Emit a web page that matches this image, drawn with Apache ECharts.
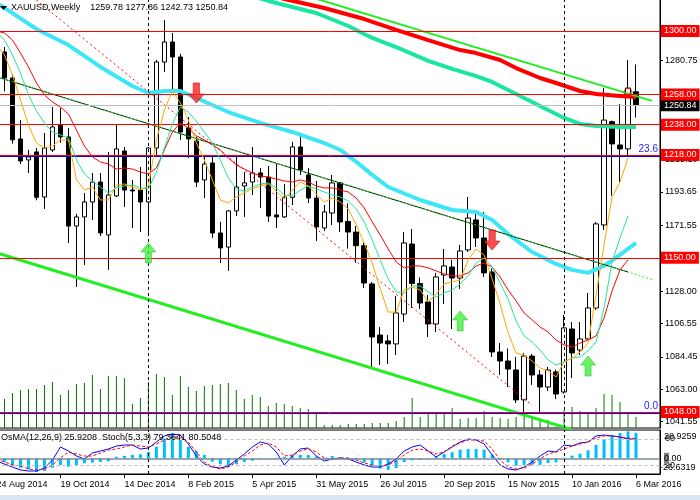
<!DOCTYPE html>
<html><head><meta charset="utf-8">
<script src="https://cdn.jsdelivr.net/npm/echarts@6/dist/echarts.min.js"></script>
<style>html,body{margin:0;padding:0;background:#fff;}#c{width:700px;height:500px;}</style>
</head><body><div id="c"></div>
<script>
const dates = ['24 Aug 2014','31 Aug 2014','7 Sep 2014','14 Sep 2014','21 Sep 2014','28 Sep 2014','5 Oct 2014','12 Oct 2014','19 Oct 2014','26 Oct 2014','2 Nov 2014','9 Nov 2014','16 Nov 2014','23 Nov 2014','30 Nov 2014','7 Dec 2014','14 Dec 2014','21 Dec 2014','28 Dec 2014',
'4 Jan 2015','11 Jan 2015','18 Jan 2015','25 Jan 2015','1 Feb 2015','8 Feb 2015','15 Feb 2015','22 Feb 2015','1 Mar 2015','8 Mar 2015','15 Mar 2015','22 Mar 2015','29 Mar 2015','5 Apr 2015','12 Apr 2015','19 Apr 2015','26 Apr 2015','3 May 2015','10 May 2015','17 May 2015','24 May 2015','31 May 2015','7 Jun 2015','14 Jun 2015','21 Jun 2015','28 Jun 2015','5 Jul 2015','12 Jul 2015','19 Jul 2015','26 Jul 2015','2 Aug 2015','9 Aug 2015','16 Aug 2015','23 Aug 2015','30 Aug 2015','6 Sep 2015','13 Sep 2015','20 Sep 2015','27 Sep 2015','4 Oct 2015','11 Oct 2015','18 Oct 2015','25 Oct 2015','1 Nov 2015','8 Nov 2015','15 Nov 2015','22 Nov 2015','29 Nov 2015','6 Dec 2015','13 Dec 2015','20 Dec 2015','27 Dec 2015',
'3 Jan 2016','10 Jan 2016','17 Jan 2016','24 Jan 2016','31 Jan 2016','7 Feb 2016','14 Feb 2016','21 Feb 2016','28 Feb 2016','6 Mar 2016','13 Mar 2016','20 Mar 2016','27 Mar 2016'];

const opens = [1280,1286.1,1268.9,1228.6,1214.7,1220,1190.2,1221.3,1237.8,1229.9,1171,1177,1186.9,1200.1,1165.1,1190.9,1220.6,1194.8,1194.8,1186.9,1222.6,1279.5,1292.7,1282.8,1235.8,1227.2,1201.5,1212.7,1166.4,1157.1,1181,1197.5,1200.1,1206.1,1203.4,1178.3,1177,1190,1223.3,1204.8,1189.5,1169.7,1179.6,1199.5,1174,1167,1158,1132.7,1098.9,1095,1093,1112.8,1159.1,1133,1120.8,1106.2,1138.6,1143.9,1136.6,1155.2,1175,1163.1,1140.6,1087.7,1081.7,1075.8,1056,1085,1072.5,1064.5,1074.5,1061.2,1102.9,1089,1096.3,1116.8,1171.7,1240,1224.6,1222,1259.78];
const highs = [1293,1289.4,1271.5,1241.1,1221.3,1222.6,1232.5,1249.7,1249,1235.8,1179,1192.9,1206.1,1206.1,1220,1237.8,1223.3,1201.5,1210,1223.3,1280.8,1307.3,1298.7,1284.8,1243.1,1230,1218,1217.3,1173.7,1181.6,1218,1206.7,1223.3,1209.4,1210.7,1212,1198.8,1226.6,1231.9,1209.4,1200.8,1184.9,1204.8,1200.1,1186,1171,1160,1134,1104.2,1099,1124.7,1167.1,1169,1137,1125.4,1140,1155.8,1148.6,1158.5,1190.2,1181.6,1180.3,1143,1093.6,1090,1084.4,1087,1086.4,1075.8,1077.8,1076,1112.2,1107.5,1107.5,1126.7,1173.7,1262.3,1240.8,1251.7,1280.8,1277.86];
const lows = [1274,1260,1225.5,1212,1206.1,1188,1182.3,1220,1226,1159.8,1130.7,1145.2,1175,1164.4,1142,1190.2,1183.6,1169.7,1167.1,1166.4,1218,1272.9,1261,1227.9,1216,1196.8,1189.5,1163.1,1146.6,1141.3,1177.6,1177,1191.5,1182.9,1173.7,1169.7,1176.3,1184.9,1204.8,1186.2,1161.1,1167.7,1171.7,1167.1,1156,1146.6,1130,1077.1,1079.1,1079.8,1085.7,1107.5,1116.8,1116.1,1097.6,1100.9,1119.4,1102.9,1129.4,1153.8,1157.1,1137.3,1084.4,1072.5,1064.5,1054,1046.7,1065.9,1047.3,1061.9,1056.6,1060,1070.5,1085.7,1095.6,1115.5,1168.4,1191,1200.1,1216.7,1242.73];
const closes = [1287,1268.9,1228,1214,1216.7,1190,1222.6,1236.5,1229.9,1171,1177,1186.9,1200.1,1166.4,1191.5,1222,1194.8,1194.2,1186.9,1222.6,1279.5,1292.7,1282.8,1233.2,1228.6,1200.1,1212,1166.4,1156.5,1181,1196.8,1199.5,1206.1,1203.4,1177.6,1177,1190,1223.3,1208.1,1189.5,1170.4,1180.3,1199.5,1173.7,1167,1158,1133.3,1097.6,1093.6,1093,1113.5,1159.8,1133,1120.1,1106.2,1137.3,1144.6,1136.6,1154.5,1176.3,1163.1,1140,1087.7,1081.7,1076.4,1056,1085,1072.5,1064.5,1075.8,1059.9,1103.6,1087,1096.3,1116.8,1172.4,1241.1,1225.3,1222,1262.3,1250.84];
const volumes = [28,29,35,38,39,39,43,46,33,38,44,45,53,39,52,52,50,24,30,46,54,51,33,52,41,37,42,43,44,45,38,29,33,31,22,25,24,22,20,19,15,3,3,3,4,4,4,5,5,5,7,11,30,11,16,16,14,20,9,10,10,17,11,10,9,11,14,12,9,8,1,18,21,17,15,20,34,33,26,16,11];

const maOrange = [1290.7,1284.1,1270.9,1254.4,1237.8,1225.9,1222.6,1223.9,1227.9,1227.9,1201.5,1194.8,1196.8,1188.2,1188.2,1198.1,1198.8,1196.8,1194.8,1197.5,1227.9,1247.7,1260.3,1252.4,1241.1,1225.9,1214.7,1201.5,1188.2,1186.2,1190.2,1192.9,1195.5,1197.5,1198.8,1194.2,1188.9,1194.8,1200.1,1197.5,1192.2,1186.9,1189.5,1186.9,1182.3,1171.7,1159.8,1146.6,1129.4,1114.1,1114.1,1128.7,1130.7,1128.7,1120.8,1126.1,1132.7,1134.0,1135.3,1148.5,1155.8,1151.8,1136.0,1119.4,1100.3,1087.0,1085.7,1081.7,1077.1,1075.1,1071.2,1081.1,1083.7,1087.7,1093.6,1125.4,1158.5,1190.2,1200.1,1216.0];
const maGreen = [1299.3,1294.0,1284.1,1272.2,1257.7,1247.1,1239.2,1233.2,1231.2,1229.2,1214.7,1205.4,1200.8,1196.8,1192.9,1196.2,1197.5,1198.1,1196.2,1195.5,1206.7,1222.6,1238.5,1249.7,1246.4,1240.5,1233.2,1225.9,1214.7,1202.8,1195.5,1194.2,1196.8,1198.8,1199.5,1196.2,1191.5,1190.9,1194.8,1197.5,1195.5,1193.5,1191.5,1190.2,1187.6,1182.3,1173.7,1161.8,1148.5,1136.0,1127.4,1126.7,1131.3,1131.3,1127.4,1124.1,1126.7,1128.7,1132.7,1138.0,1146.6,1149.9,1143.9,1133.3,1122.7,1108.2,1098.3,1094.3,1089.0,1082.4,1079.1,1081.1,1083.7,1084.4,1088.4,1094.3,1116.8,1147.2,1163.1,1177.6];
const maRed = [1300.0,1298.7,1294.0,1285.4,1276.2,1265.6,1257.7,1253.0,1249.7,1245.1,1234.5,1223.9,1216.7,1213.4,1212.0,1208.7,1209.4,1208.7,1206.7,1205.4,1209.4,1221.3,1233.2,1239.2,1235.8,1230.6,1227.9,1224.6,1221.3,1216.0,1211.4,1208.7,1206.1,1204.1,1203.4,1202.1,1200.8,1200.1,1201.5,1200.1,1197.5,1196.2,1196.2,1194.8,1193.5,1189.5,1182.9,1173.7,1165.1,1155.8,1147.2,1143.3,1144.6,1144.6,1143.3,1141.3,1139.3,1138.0,1138.0,1140.0,1144.6,1146.6,1143.9,1137.3,1128.7,1121.4,1113.5,1108.9,1104.2,1100.9,1095.6,1092.3,1091.0,1093.6,1095.6,1098.3,1110.2,1128.0,1142.0,1148.6];

const maCyan = [[0,1318.5],[1,1315.3],[5,1301.3],[9,1290.7],[13,1276.2],[17,1263.6],[19,1259.0],[21,1260.3],[23,1260.3],[25,1255.7],[29,1246.4],[33,1239.2],[37,1233.2],[41,1225.9],[43,1221.3],[45,1213.4],[47,1204.8],[49,1196.8],[53,1188.2],[57,1181.6],[60,1180.3],[62,1175.0],[64,1165.7],[67,1153.8],[70,1145.9],[72,1142.0],[74,1140.0],[76,1144.6],[78,1151.9],[80,1159.8]];
const maRedThick = [[35,1322.5],[36,1321.2],[41,1315.2],[46,1307.9],[50,1300.7],[54,1294.0],[58,1287.4],[60,1285.4],[63,1280.8],[65,1275.5],[68,1268.9],[70,1265.6],[73,1260.3],[75,1258.3],[78,1257.0],[80,1256.3]];
const maTeal = [[32,1323.0],[35,1318.5],[36,1317.2],[40,1311.9],[44,1303.3],[47,1295.4],[50,1289.4],[54,1280.2],[57,1274.9],[60,1270.2],[62,1266.3],[65,1258.3],[68,1250.4],[71,1242.5],[73,1238.5],[75,1237.2],[78,1236.5],[80,1236.5]];

const trendTopGreen = [[39,1322.9],[82,1253.8]];
const trendLowGreen = [[0,1153.3],[72,1036.3]];
const trendMidDash = [[0,1269.7],[82,1135.6]];
const trendMidSolid = [[0,1269.7],[79,1140.6]];
const trendRedDash = [[4,1324.7],[67,1052.4]];

const levels = [1300, 1258, 1238, 1218, 1150, 1048];
const bidPrice = 1250.84;
const fiboValues = [1217.4, 1047.4];
const fiboNames = ['23.6', '0.0'];
const priceTicks = [1280.75, 1215.10, 1193.65, 1171.55, 1128.00, 1106.55, 1084.45, 1063.00, 1041.55];
const separators = ['4 Jan 2015', '3 Jan 2016'];

const upArrows = [[19,1153.2],[58,1108.2],[74,1078.4]];
const downArrows = [[25,1259.0],[62,1161.8]];
const markCircle = [[79,1259.4]];

const osma = [-2,-3.7,-7.2,-9.6,-11.3,-14.0,-13.0,-9.6,-6.8,-8.6,-6.8,-5.1,-4.4,-3.8,-3.1,1.6,2.4,3.4,4.1,6.4,11.9,20.0,25.6,18.7,11.6,7.5,3.4,-3.4,-6.1,-8.6,-6.1,-3.8,-2.4,-1.0,-0.3,0.5,1.5,3.0,3.5,3.4,1.8,0.6,2.4,1.0,0.6,-1.7,-4.4,-7.8,-10.5,-11.9,-9.9,-3.8,-2.0,-1.4,0.4,1.7,4.4,6.1,8.9,9.5,9.5,8.9,3.7,-1.4,-4.1,-7.5,-6.8,-6.5,-6.8,-4.8,-4.1,0.5,2.7,4.8,8.2,13.6,19.8,23.9,25.9,27.6,25.92];
const stochMain = [29.5,22.7,15.9,9.1,6.8,6.8,13.6,31.8,61.4,52.3,40.9,34.1,47.7,52.3,56.8,63.6,65.9,65.9,56.8,59.1,72.7,86.4,90.9,88.6,68.2,40.9,22.7,15.9,13.6,18.2,31.8,45.5,61.4,72.7,68.2,50.0,20.5,40.9,56.8,59.1,40.9,29.5,34.1,36.4,34.1,27.3,20.5,15.9,15.9,22.7,34.1,52.3,61.4,65.9,52.3,38.6,50.0,61.4,72.7,79.5,77.3,68.2,43.2,20.5,11.4,9.1,15.9,27.3,40.9,52.3,50.0,65.9,63.6,70.5,72.7,86.4,88.6,86.4,84.1,79.5,79.36];
const stochSignal = [34.1,27.3,20.5,18.2,11.4,9.1,11.4,20.5,36.4,50.0,45.5,40.9,40.9,47.7,54.5,56.8,61.4,65.9,63.6,61.4,68.2,77.3,84.1,84.1,72.7,50.0,27.3,15.9,11.4,15.9,27.3,40.9,52.3,65.9,70.5,61.4,40.9,43.2,52.3,56.8,50.0,36.4,34.1,36.4,36.4,31.8,25.0,20.5,18.2,20.5,29.5,43.2,54.5,56.8,52.3,45.5,50.0,63.6,70.5,77.3,77.3,75.0,56.8,31.8,15.9,11.4,13.6,22.7,34.1,45.5,50.0,56.8,63.6,68.2,72.7,81.8,86.4,86.4,84.1,81.8,80.50];
const stochLevels = [80, 20];
const osmaRange = [-16.05, 28.9259];

const F = 'Liberation Sans';
const candleData = opens.map((o, i) => [o, closes[i], lows[i], highs[i]]);
const noSym = ['none', 'none'];
const lineS = (data, color, width, extra) => Object.assign({
  type: 'line', xAxisIndex: 0, yAxisIndex: 0, data: data, symbol: 'none', silent: true,
  connectNulls: true, lineStyle: { color: color, width: width }, z: 3
}, extra || {});

const chart = echarts.init(document.getElementById('c'));
chart.setOption({
  animation: false,
  textStyle: { fontFamily: F },
  title: [
    { text: 'XAUUSD,Weekly    1259.78 1277.86 1242.73 1250.84', left: 11, top: 3, padding: 0,
      textStyle: { fontSize: 9, fontWeight: 'normal', color: '#000', fontFamily: F } },
    { text: 'OsMA(12,26,9) 25.9208  Stoch(5,3,3) 79.3641 80.5048', left: 1, top: 433, padding: 0,
      textStyle: { fontSize: 9, fontWeight: 'normal', color: '#000', fontFamily: F } }
  ],
  grid: [
    { left: -3.5, top: -1, width: 663.5, height: 429, show: true, borderColor: '#000', borderWidth: 1,
      backgroundColor: 'transparent', containLabel: false, outerBoundsMode: 'none' },
    { left: -3.5, top: 430, width: 663.5, height: 44, show: true, borderColor: '#000', borderWidth: 1,
      backgroundColor: 'transparent', containLabel: false, outerBoundsMode: 'none' }
  ],
  xAxis: [
    { type: 'category', gridIndex: 0, data: dates, boundaryGap: false,
      axisLine: { show: false }, axisTick: { show: false }, axisLabel: { show: false }, splitLine: { show: false } },
    { type: 'category', gridIndex: 1, data: dates, boundaryGap: false,
      axisLine: { show: true, lineStyle: { color: '#000' } },
      axisTick: { show: true, interval: 7, length: 4, lineStyle: { color: '#000' } },
      axisLabel: { interval: 7, align: 'left', fontSize: 9, color: '#000', margin: 6, fontFamily: F },
      splitLine: { show: false } }
  ],
  yAxis: [
    { type: 'value', gridIndex: 0, position: 'right', min: 1037.4, max: 1321.16,
      axisLine: { show: true, lineStyle: { color: '#000' } },
      axisTick: { show: true, length: 3, customValues: priceTicks, lineStyle: { color: '#000' } },
      axisLabel: { show: true, customValues: priceTicks, formatter: v => v.toFixed(2), fontSize: 9, color: '#000', margin: 5, fontFamily: F },
      splitLine: { show: false } },
    { type: 'value', gridIndex: 0, min: 0, max: 428, show: false, splitLine: { show: false } },
    { type: 'value', gridIndex: 1, position: 'right', min: 0, max: 100,
      axisLine: { show: true, lineStyle: { color: '#000' } }, axisTick: { show: false },
      axisLabel: { customValues: stochLevels, fontSize: 9, color: '#000', margin: 5, fontFamily: F },
      splitLine: { show: false } },
    { type: 'value', gridIndex: 1, position: 'right', min: osmaRange[0], max: osmaRange[1],
      axisLine: { show: false }, axisTick: { show: false },
      axisLabel: { customValues: [0], margin: 4, fontSize: 9, color: '#000', fontFamily: F,
        formatter: v => { const s = v.toFixed(2); return '{g|' + s[0] + '}' + s.slice(1); },
        rich: { g: { backgroundColor: '#7f7f7f', color: '#000', fontSize: 9, fontFamily: F, padding: [1, 0, 1, 0] } } },
      splitLine: { show: false } }
  ],
  graphic: [
    { type: 'polygon', shape: { points: [[0, 6], [7, 6], [3.5, 10]] }, style: { fill: '#000' }, z: 100 },
    { type: 'text', x: 664, y: 437, style: { text: '28.9259', fontSize: 9, fontFamily: F, fill: '#000', verticalAlign: 'middle' }, z: 100 },
    { type: 'text', x: 660, y: 468, style: { text: '-26.6319', fontSize: 9, fontFamily: F, fill: '#000', verticalAlign: 'middle' }, z: 100 },
    { type: 'rect', shape: { x: 0, y: 495, width: 700, height: 5 }, style: { fill: '#dbe5f1' }, z: 100 }
  ],
  series: [
    { name: 'Volume', type: 'bar', xAxisIndex: 0, yAxisIndex: 1, data: volumes, barWidth: 1,
      itemStyle: { color: '#007a00' }, z: 1, silent: true },
    { name: 'XAUUSD', type: 'candlestick', xAxisIndex: 0, yAxisIndex: 0, data: candleData, barWidth: 5,
      itemStyle: { color: '#ffffff', color0: '#000000', borderColor: '#000000', borderColor0: '#000000', borderWidth: 1 },
      z: 2, silent: true,
      markLine: { symbol: noSym, silent: true, animation: false, label: { show: false },
        lineStyle: { color: '#000', type: [3, 3], width: 1 },
        data: separators.map(d => ({ xAxis: d })) } },
    lineS(maTeal, '#19e6a0', 4),
    lineS(maRedThick, '#ff0000', 4),
    lineS(maCyan, '#3de6f7', 4),
    lineS(trendTopGreen, '#22ee22', 2),
    lineS(trendLowGreen, '#22ee22', 3),
    lineS(trendMidSolid, '#000000', 1),
    lineS(trendMidDash, '#22ee22', 1, { lineStyle: { color: '#22ee22', width: 1, type: [2, 2] } }),
    lineS(trendRedDash, '#ff0000', 1, { lineStyle: { color: '#ff0000', width: 1, type: [2, 3] } }),
    lineS([], '#0000ff', 1, { z: 3,
      markLine: { symbol: noSym, silent: true, animation: false,
        lineStyle: { color: '#0000ff', width: 1, type: 'solid' },
        label: { show: true, position: 'insideEndTop', formatter: p => p.name, color: '#2424ff', fontSize: 10, fontFamily: F, distance: 2 },
        data: fiboValues.map((v, i) => ({ yAxis: v, name: fiboNames[i] })) } }),
    lineS([], '#c0c0c0', 1, { z: 3,
      markLine: { symbol: noSym, silent: true, animation: false,
        lineStyle: { color: '#c0c0c0', width: 1, type: 'solid' },
        label: { show: true, position: 'end', distance: 1, formatter: p => p.value.toFixed(2), backgroundColor: '#000', color: '#fff', fontSize: 9, fontFamily: F, padding: [2, 3, 1, 3] },
        data: [{ yAxis: bidPrice }] } }),
    lineS([], '#ff0000', 1, { z: 4,
      markLine: { symbol: noSym, silent: true, animation: false,
        lineStyle: { color: '#ff0000', width: 1, type: 'solid' },
        label: { show: true, position: 'end', distance: 1, formatter: p => p.value.toFixed(2), backgroundColor: '#ff0000', color: '#fff', fontSize: 9, fontFamily: F, padding: [2, 3, 1, 3] },
        data: levels.map(v => ({ yAxis: v })) } }),
    lineS(maRed, '#ff0000', 1, { z: 5 }),
    lineS(maGreen, '#1ee898', 1, { z: 5 }),
    lineS(maOrange, '#ffa500', 1, { z: 5 }),
    { type: 'scatter', xAxisIndex: 0, yAxisIndex: 0, data: upArrows, silent: true, z: 6,
      symbol: 'path://M7.5,0 L15,9 L10.5,9 L10.5,20 L4.5,20 L4.5,9 L0,9 Z', symbolSize: [15, 20],
      itemStyle: { color: '#40f040', borderColor: '#20b020', borderWidth: 0.6 } },
    { type: 'scatter', xAxisIndex: 0, yAxisIndex: 0, data: downArrows, silent: true, z: 6,
      symbol: 'path://M4.5,0 L10.5,0 L10.5,11 L15,11 L7.5,20 L0,11 L4.5,11 Z', symbolSize: [16, 20],
      itemStyle: { color: '#ff2020', borderColor: '#b00000', borderWidth: 0.6 } },
    { type: 'scatter', xAxisIndex: 0, yAxisIndex: 0, data: markCircle, silent: true, z: 6,
      symbol: 'circle', symbolSize: 8, itemStyle: { color: 'rgba(0,0,0,0)', borderColor: '#ff0000', borderWidth: 1 } },
    { name: 'OsMA', type: 'bar', xAxisIndex: 1, yAxisIndex: 3, data: osma, barWidth: 3, silent: true,
      itemStyle: { color: '#00bfff' }, z: 2,
      markLine: { symbol: noSym, silent: true, animation: false, label: { show: false },
        lineStyle: { color: '#7d8b99', width: 1.5, type: 'solid' }, data: [{ yAxis: 0 }] } },
    { name: 'Stoch', type: 'line', xAxisIndex: 1, yAxisIndex: 2, data: stochMain, symbol: 'none', silent: true,
      lineStyle: { color: '#0000ff', width: 1 }, z: 4,
      markLine: { symbol: noSym, silent: true, animation: false, label: { show: false },
        lineStyle: { color: '#b8b8b8', width: 1, type: [3, 3] }, data: stochLevels.map(v => ({ yAxis: v })) } },
    { name: 'Signal', type: 'line', xAxisIndex: 1, yAxisIndex: 2, data: stochSignal, symbol: 'none', silent: true,
      lineStyle: { color: '#ff0000', width: 1, type: [3, 2] }, z: 4,
      markLine: { symbol: noSym, silent: true, animation: false, label: { show: false },
        lineStyle: { color: '#000', width: 1, type: [3, 3] }, data: separators.map(d => ({ xAxis: d })) } }
  ]
});
</script>
</body></html>
